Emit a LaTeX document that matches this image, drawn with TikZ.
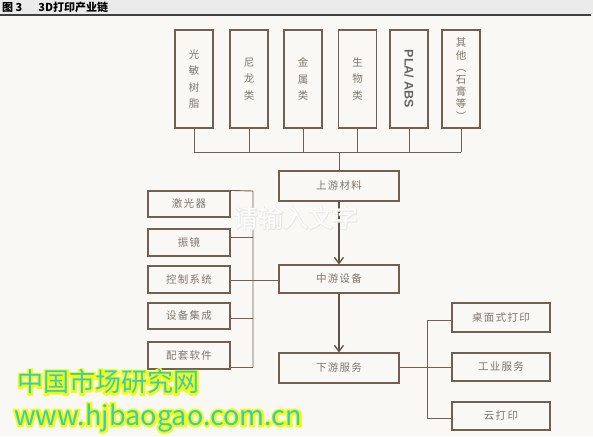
\documentclass[tikz,border=0pt]{standalone}
\usepackage{fontspec}
\usetikzlibrary{arrows.meta}
\newfontfamily\cjk{Noto Sans CJK SC}
\newfontfamily\cjksp[LetterSpace=12]{Noto Sans CJK SC}
\newfontfamily\cjkfat[FakeBold=14]{Noto Sans CJK SC}
\newfontfamily\cjkthin[FakeBold=5]{Noto Sans CJK SC}
\newfontfamily\lsans{Liberation Sans}
\definecolor{bg}{RGB}{249,248,244}
\definecolor{edge}{RGB}{112,96,84}
\definecolor{txt}{RGB}{128,118,108}
\definecolor{wmcyan}{RGB}{62,200,196}
\definecolor{wmyellow}{RGB}{238,255,10}
\newcommand\haloed[3]{{\color{#2}\rlap{#3#1}}#1}
\begin{document}
\begin{tikzpicture}[x=1pt,y=-1pt,
  vbox/.style={draw=edge,line width=1.1pt,minimum width=38pt,minimum height=98pt,inner sep=0pt,
    text=txt,align=center,font=\cjk\fontsize{10.5}{16.5}\selectfont},
  hbox/.style={draw=edge,line width=1.1pt,minimum width=120pt,minimum height=29pt,inner sep=0pt,
    text=txt,font=\cjksp\fontsize{10.5}{12}\selectfont},
  lbox/.style={draw=edge,line width=1.1pt,minimum width=82pt,minimum height=27pt,inner sep=0pt,
    text=txt,font=\cjksp\fontsize{10.5}{12}\selectfont},
  rbox/.style={draw=edge,line width=1.1pt,minimum width=98pt,minimum height=28pt,inner sep=0pt,
    text=txt,font=\cjksp\fontsize{10.5}{12}\selectfont},
  conn/.style={draw=edge,line width=0.9pt},
  arr/.style={draw=edge!85!black,line width=1.3pt,-{Straight Barb[length=6pt,width=9pt,line width=1.3pt]}}
]
\useasboundingbox (0,0) rectangle (593,436);
\fill[bg] (0,0) rectangle (593,436);
\fill[black!8] (0,0) rectangle (593,14);
\draw[black!75,line width=2pt] (0,15) -- (591,15);
\node[anchor=west,inner sep=0pt,font=\cjk\bfseries\fontsize{11}{12}\selectfont] (title) at (2,7) {图 3\hspace{16pt}3D打印产业链};

% top material boxes
\node[vbox] (m1) at (194,79) {光\\敏\\树\\脂};
\node[vbox] (m2) at (249,79) {尼\\龙\\类};
\node[vbox] (m3) at (303,79) {金\\属\\类};
\node[vbox] (m4) at (357.5,79) {生\\物\\类};
\node[vbox] (m5) at (409,79) {};
\node[rotate=-90,font=\lsans\bfseries\fontsize{12.5}{14}\selectfont,text=black!60] (m5t) at (m5.center) {PLA/ ABS};
\node[vbox,font=\cjk\fontsize{10.5}{12.2}\selectfont] (m6) at (461,79) {其\\他\\︵\\石\\膏\\等\\︶};

\coordinate (busL) at (194,152);
\coordinate (busR) at (461,152);
\foreach \m in {m1,m2,m3,m4,m5,m6} \draw[conn] (\m.south) -- (\m.south |- busL);
\draw[conn] (busL) -- (busR);

\node[hbox,minimum height=30pt] (up) at (339,186) {上游材料};
\node[hbox,minimum height=28pt] (mid) at (339,279) {中游设备};
\node[hbox,minimum height=30pt] (down) at (339,368) {下游服务};
\draw[conn] (up.north |- busL) -- (up.north);
\draw[arr] (up.south) -- (mid.north);
\draw[arr] (mid.south) -- (down.north);

% left equipment boxes
\node[lbox,minimum height=26pt] (l1) at (189,204) {激光器};
\node[lbox] (l2) at (189,242.5) {振镜};
\node[lbox] (l3) at (189,279.5) {控制系统};
\node[lbox,minimum height=26pt] (l4) at (189,316) {设备集成};
\node[lbox] (l5) at (189,355.5) {配套软件};
\coordinate (lbT) at (253,191);
\coordinate (lbB) at (253,367);
\draw[conn] (l1.north east) -- (lbT) -- (lbB);
\draw[conn] (l2.east |- 0,237) -- (253,237);
\draw[conn] (l3.east |- 0,280) -- (mid.west |- 0,280);
\draw[conn] (l4.east |- 0,318) -- (253,318);
\draw[conn] (l5.east |- lbB) -- (lbB);

% right service boxes
\node[rbox,minimum height=29pt] (r1) at (501,317.5) {桌面式打印};
\node[rbox] (r2) at (501,367) {工业服务};
\node[rbox] (r3) at (501,416) {云打印};
\coordinate (rbT) at (427,320);
\coordinate (rbB) at (427,418);
\draw[conn] (r1.west |- rbT) -- (rbT) -- (rbB) -- (r3.west |- rbB);
\draw[conn] (down.east |- r2.west) -- (r2.west);

% watermarks
\node[anchor=center,inner sep=0pt,font=\cjk\fontsize{25}{28}\selectfont,text=white] (wm0) at (296,218)
  {\haloed{请输入文字}{black!9}{\cjkthin}};
\node[anchor=west,inner sep=0pt,font=\cjk\fontsize{26}{28}\selectfont,text=wmcyan] (wm1) at (17,382)
  {\haloed{中国市场研究网}{wmyellow}{\cjkfat}};
\node[anchor=west,inner sep=0pt,font=\cjk\fontsize{27}{30}\selectfont,text=wmcyan] (wm2) at (14,418)
  {\haloed{www.hjbaogao.com.cn}{wmyellow}{\cjkfat}};
\end{tikzpicture}
\end{document}
